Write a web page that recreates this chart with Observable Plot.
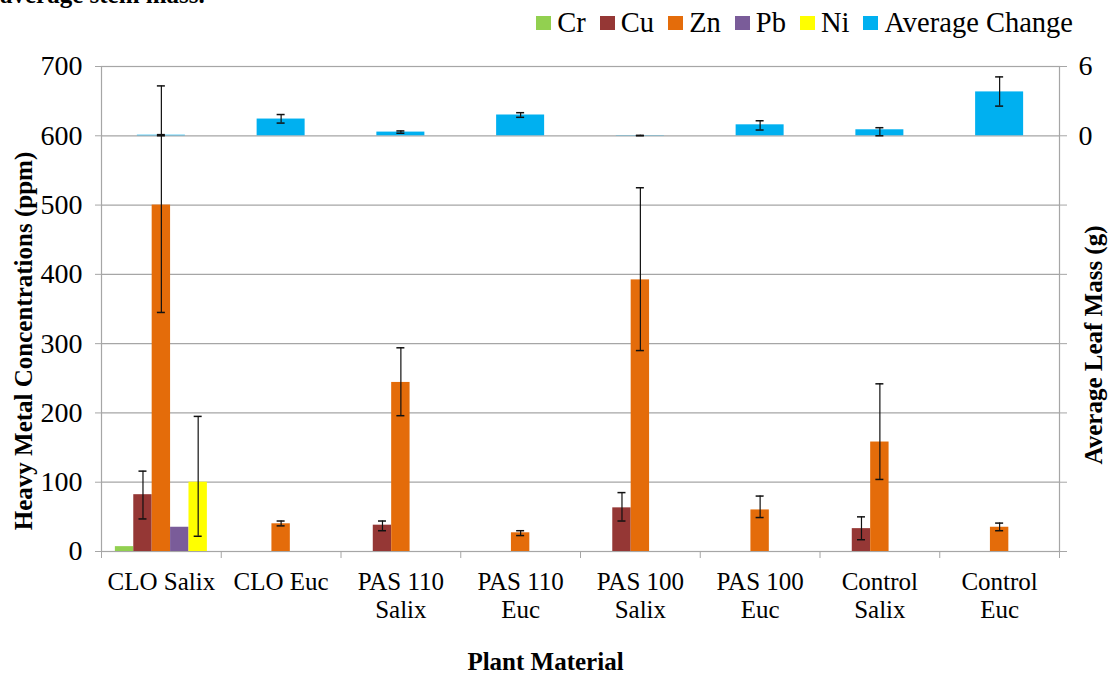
<!DOCTYPE html>
<html>
<head>
<meta charset="utf-8">
<script src="https://cdn.jsdelivr.net/npm/d3@7"></script>
<script src="https://cdn.jsdelivr.net/npm/@observablehq/plot@0.6"></script>
<style>
  body { margin: 0; background: #fff; font-family: "Liberation Serif", "Times New Roman", serif; }
  #wrap { position: relative; width: 1114px; height: 673px; overflow: hidden; }
  #title { position: absolute; left: 0; top: -18px; font-weight: bold; font-size: 25px; line-height: 25px; white-space: nowrap; }
  #legend { position: absolute; top: 8px; right: 41px; display: flex; align-items: center; font-size: 28.5px; line-height: 30px; white-space: nowrap; }
  .item { display: flex; align-items: center; margin-left: 14px; }
  .item:first-child { margin-left: 0; }
  .sw { width: 15px; height: 14px; margin-right: 6px; }
  #chart { position: absolute; left: 0; top: 0; }
</style>
</head>
<body>
<div id="wrap">
  <div id="title">average stem mass.</div>
  <div id="legend"></div>
  <div id="chart"></div>
</div>
<script>
// ---- data ----
const categories = ["CLO Salix", "CLO Euc", "PAS 110\nSalix", "PAS 110\nEuc", "PAS 100\nSalix", "PAS 100\nEuc", "Control\nSalix", "Control\nEuc"];
const metals = ["Cr", "Cu", "Zn", "Pb", "Ni"];
const metalColors = ["#92D050", "#953735", "#E46C0A", "#7A5C99", "#FFFF00"];

const crValues = [7, 0, 0, 0, 0, 0, 0, 0];
const cuValues = [82, 0, 38, 0, 63, 0, 33, 0];
const znValues = [500, 40, 244, 27, 392, 60, 158, 35];
const pbValues = [35, 0, 0, 0, 0, 0, 0, 0];
const niValues = [100, 0, 0, 0, 0, 0, 0, 0];

// error bar ends (ppm); null = no error bar
const crLow  = [null, null, null, null, null, null, null, null];
const crHigh = [null, null, null, null, null, null, null, null];
const cuLow  = [47, null, 30, null, 44, null, 17, null];
const cuHigh = [116, null, 44, null, 85, null, 50, null];
const znLow  = [345, 37, 196, 23, 290, 49, 104, 30];
const znHigh = [672, 44, 294, 30, 525, 80, 242, 41];
const pbLow  = [null, null, null, null, null, null, null, null];
const pbHigh = [null, null, null, null, null, null, null, null];
const niLow  = [22, null, null, null, null, null, null, null];
const niHigh = [195, null, null, null, null, null, null, null];

// Average Change (secondary axis, g)
const avgChange = [0.05, 1.45, 0.32, 1.8, 0.02, 0.95, 0.52, 3.8];
const avgLow    = [0.0, 1.1, 0.22, 1.6, 0.0, 0.5, 0.0, 2.57];
const avgHigh   = [0.1, 1.84, 0.42, 2.0, 0.04, 1.3, 0.7, 5.1];
const avgColor = "#00B0F0";

const leftTicks = [0, 100, 200, 300, 400, 500, 600, 700];
const rightTicks = [0, 6];
// secondary axis alignment: right 0 sits on left 600, right 6 on left 700
const rightAlign = [600, 700];

const yLabel = "Heavy Metal Concentrations (ppm)";
const y2Label = "Average Leaf Mass (g)";
const xLabel = "Plant Material";

// ---- build ----
const toLeft = v => rightAlign[0] + (v - rightTicks[0]) * (rightAlign[1] - rightAlign[0]) / (rightTicks[1] - rightTicks[0]);

const seriesValues = [crValues, cuValues, znValues, pbValues, niValues];
const seriesLow = [crLow, cuLow, znLow, pbLow, niLow];
const seriesHigh = [crHigh, cuHigh, znHigh, pbHigh, niHigh];

const rows = metals.flatMap((m, j) => categories.map((c, i) => ({
  cat: c, metal: m, j, v: seriesValues[j][i], lo: seriesLow[j][i], hi: seriesHigh[j][i]
})));
const avgRows = categories.map((c, i) => ({cat: c, v: avgChange[i], lo: avgLow[i], hi: avgHigh[i]}));

// legend
const legend = document.getElementById("legend");
[...metals.map((m, j) => [m, metalColors[j]]), ["Average Change", avgColor]].forEach(([name, col]) => {
  const it = document.createElement("div");
  it.className = "item";
  const sw = document.createElement("div");
  sw.className = "sw";
  sw.style.background = col;
  const tx = document.createElement("span");
  tx.textContent = name;
  it.append(sw, tx);
  legend.append(it);
});

const W = 1114, H = 673;
const mL = 101, mR = 55, mT = 66, mB = 122;
const step = (W - mL - mR) / categories.length;
const barW = 18.4, avgW = 48, capW = 8;
const inset = w => (step - w) / 2;
const grey = "#A6A6A6";
const font = "Liberation Serif, Times New Roman, serif";

const marks = [
  Plot.ruleY(leftTicks.filter(t => t > 0), {y: d => d, stroke: grey, strokeWidth: 1.2}),
  Plot.frame({stroke: grey, strokeWidth: 1.2}),
];
metals.forEach((m, j) => {
  marks.push(Plot.barY(rows.filter(d => d.j === j && d.v > 0), {
    x: "cat", y: "v", fill: metalColors[j],
    insetLeft: inset(barW), insetRight: inset(barW), dx: (j - 2) * barW
  }));
});
marks.push(Plot.barY(avgRows, {
  x: "cat", y1: d => toLeft(0), y2: d => toLeft(d.v), fill: avgColor,
  insetLeft: inset(avgW), insetRight: inset(avgW)
}));
// error bars
metals.forEach((m, j) => {
  const er = rows.filter(d => d.j === j && d.lo != null);
  marks.push(Plot.ruleX(er, {x: "cat", y1: "lo", y2: "hi", stroke: "#111", strokeWidth: 1.2, dx: (j - 2) * barW}));
  marks.push(Plot.tickY(er, {x: "cat", y: "lo", stroke: "#111", strokeWidth: 1.5, insetLeft: inset(capW), insetRight: inset(capW), dx: (j - 2) * barW}));
  marks.push(Plot.tickY(er, {x: "cat", y: "hi", stroke: "#111", strokeWidth: 1.5, insetLeft: inset(capW), insetRight: inset(capW), dx: (j - 2) * barW}));
});
marks.push(Plot.ruleX(avgRows, {x: "cat", y1: d => toLeft(d.lo), y2: d => toLeft(d.hi), stroke: "#111", strokeWidth: 1.2}));
marks.push(Plot.tickY(avgRows, {x: "cat", y: d => toLeft(d.lo), stroke: "#111", strokeWidth: 1.5, insetLeft: inset(capW), insetRight: inset(capW)}));
marks.push(Plot.tickY(avgRows, {x: "cat", y: d => toLeft(d.hi), stroke: "#111", strokeWidth: 1.5, insetLeft: inset(capW), insetRight: inset(capW)}));

// axes
marks.push(Plot.axisY({anchor: "left", ticks: leftTicks, tickSize: 6, tickPadding: 13, stroke: grey, fill: "black", fontSize: 28, label: null}));
marks.push(Plot.axisY({anchor: "right", ticks: leftTicks, tickSize: 7, tickPadding: 12, stroke: grey, fill: "black", fontSize: 28, label: null,
  tickFormat: d => { const r = rightTicks.find(r => toLeft(r) === d); return r === undefined ? "" : String(r); }}));
marks.push(Plot.axisX({anchor: "bottom", ticks: categories, tickSize: 0, tickPadding: 19, fill: "black", fontSize: 25, lineHeight: 1.1, label: null}));
marks.push(Plot.axisX({anchor: "bottom", ticks: categories, tickSize: 7, tickFormat: () => "", stroke: grey, dx: -step / 2, label: null}));
marks.push(Plot.axisX({anchor: "bottom", ticks: [categories[categories.length - 1]], tickSize: 7, tickFormat: () => "", stroke: grey, dx: step / 2, label: null}));

// axis titles
marks.push(Plot.text([yLabel], {frameAnchor: "left", text: d => d, rotate: -90, textAnchor: "middle", lineAnchor: "middle", dx: -78, dy: 32, fontSize: 25, fontWeight: "bold", fill: "black"}));
marks.push(Plot.text([y2Label], {frameAnchor: "right", text: d => d, rotate: -90, textAnchor: "middle", lineAnchor: "middle", dx: 34, dy: 36, fontSize: 25, fontWeight: "bold", fill: "black"}));
marks.push(Plot.text([xLabel], {frameAnchor: "bottom", text: d => d, textAnchor: "middle", lineAnchor: "middle", dx: -35, dy: 110, fontSize: 25, fontWeight: "bold", fill: "black"}));

const chart = Plot.plot({
  width: W, height: H,
  marginLeft: mL, marginRight: mR, marginTop: mT, marginBottom: mB,
  style: {fontFamily: font, background: "transparent", color: "black", overflow: "visible"},
  x: {type: "band", domain: categories, padding: 0, round: false, axis: null},
  y: {domain: [0, 700], axis: null},
  marks
});
document.getElementById("chart").append(chart);
</script>
</body>
</html>
